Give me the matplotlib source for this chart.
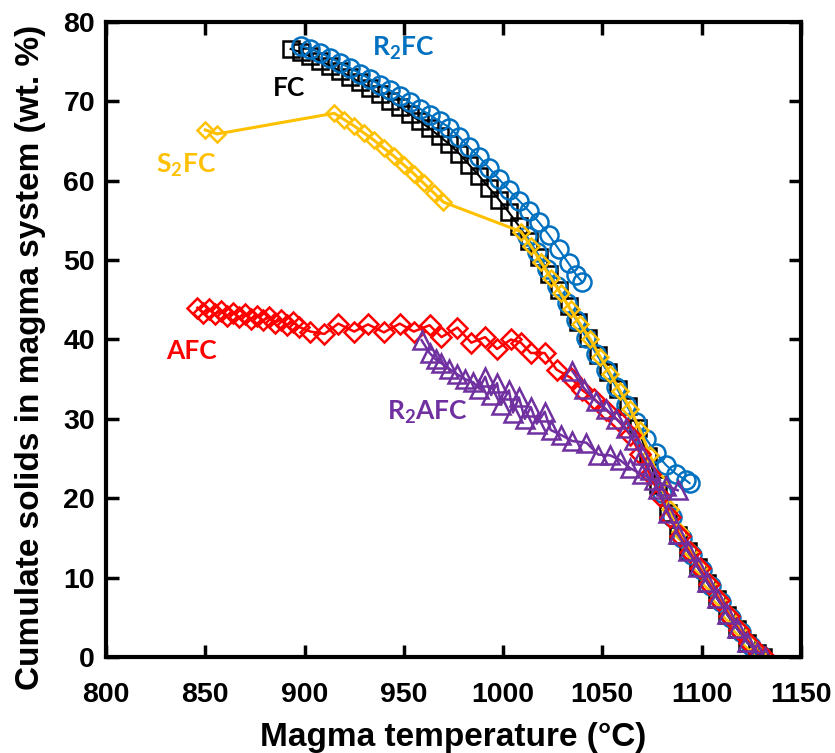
import matplotlib
matplotlib.use("Agg")
import matplotlib.pyplot as plt

# ---- data ----
fc_temp = [893, 898, 903, 908, 913, 918, 923, 928, 933, 938, 943, 948, 953, 958, 963, 968,
           973, 978, 983, 988, 993, 998, 1003, 1008, 1013, 1018, 1023, 1028, 1033, 1038,
           1043, 1048, 1053, 1058, 1063, 1068, 1073, 1078, 1083, 1088, 1093, 1098, 1103,
           1108, 1113, 1118, 1123, 1128, 1131]
fc_solid = [76.6, 76.2, 75.7, 75.1, 74.5, 73.8, 73.1, 72.4, 71.7, 70.9, 70.1, 69.3, 68.4,
            67.5, 66.6, 65.6, 64.6, 63.4, 62.0, 60.6, 59.1, 57.6, 56.0, 54.3, 52.4, 50.4,
            48.3, 46.2, 44.2, 42.2, 40.2, 38.0, 35.9, 33.8, 31.6, 28.8, 25.3, 21.7, 18.2,
            15.4, 13.3, 11.3, 9.3, 7.3, 5.3, 3.5, 1.8, 0.5, 0.0]

r2fc_temp = [898, 903, 908, 913, 918, 923, 928, 933, 938, 943, 948, 953, 958, 963, 968,
             973, 978, 983, 988, 993, 998, 1003, 1008, 1013, 1018, 1023, 1028, 1033, 1037,
             1040]
r2fc_solid = [77.0, 76.6, 76.1, 75.5, 74.8, 74.2, 73.5, 72.8, 72.1, 71.4, 70.7, 69.9, 69.1,
              68.3, 67.5, 66.7, 65.5, 64.2, 63.0, 61.6, 60.2, 58.8, 57.5, 56.2, 54.8, 53.2,
              51.4, 49.6, 48.1, 47.2]
r2fc_temp_b = [1012, 1017, 1022, 1027, 1032, 1037, 1042, 1047, 1052, 1057, 1062, 1067,
               1072, 1077, 1082, 1087, 1092, 1094]
r2fc_solid_b = [53.0, 51.0, 48.9, 46.8, 44.6, 42.4, 40.2, 38.2, 36.2, 34.0, 31.8, 29.6,
                27.5, 25.7, 24.2, 23.1, 22.3, 21.9]
r2fc_temp_c = [1080, 1085, 1090, 1095, 1100, 1105, 1110, 1115, 1120, 1125, 1130]
r2fc_solid_c = [20.6, 17.6, 15.0, 12.9, 10.9, 8.9, 6.9, 4.9, 3.1, 1.4, 0.2]

s2fc_temp = [850, 856, 915, 920, 925, 930, 935, 940, 945, 950, 955, 960, 965, 970, 1009,
             1014, 1019, 1024, 1029, 1034, 1039, 1044, 1049, 1054, 1059, 1064, 1069, 1074,
             1079, 1084, 1089, 1094, 1099, 1104, 1109, 1114, 1119, 1124, 1129, 1132]
s2fc_solid = [66.4, 65.9, 68.5, 67.7, 66.9, 66.0, 65.1, 64.1, 63.1, 62.0, 60.9, 59.7, 58.5,
              57.3, 53.6, 51.8, 49.8, 47.8, 45.8, 43.8, 41.9, 40.0, 37.8, 35.7, 33.5, 31.3,
              28.6, 25.5, 22.0, 18.6, 15.8, 13.5, 11.4, 9.4, 7.4, 5.4, 3.6, 1.9, 0.6, 0.0]

afc_temp = [846, 849, 852, 855, 858, 861, 864, 867, 870, 873, 876, 879, 882, 885, 888, 891,
            894, 897, 903, 910, 917, 925, 932, 940, 948, 955, 963, 969, 977, 984, 991, 997,
            1004, 1009, 1014, 1021, 1027, 1034, 1040, 1046, 1052, 1058, 1064, 1069, 1074,
            1079, 1084, 1089, 1094, 1099, 1104, 1109, 1114, 1119, 1124, 1129, 1132]
afc_solid = [44.0, 43.4, 43.8, 43.2, 43.6, 43.0, 43.4, 42.8, 43.2, 42.6, 43.0, 42.4, 42.8,
             42.1, 42.5, 41.8, 42.2, 41.6, 41.0, 40.7, 42.0, 41.0, 41.9, 40.9, 42.0, 41.0,
             41.8, 40.3, 41.5, 39.6, 40.3, 38.8, 40.0, 39.6, 38.3, 38.3, 36.2, 35.2, 33.6,
             32.5, 31.1, 29.8, 28.0, 25.6, 23.0, 20.3, 17.6, 15.3, 13.2, 11.2, 9.2, 7.2, 5.2,
             3.4, 1.8, 0.5, 0.0]

r2afc_temp = [959, 963, 966, 969, 973, 977, 981, 985, 988, 991, 994, 997, 999, 1003, 1005,
              1008, 1011, 1014, 1017, 1021, 1024, 1029, 1035, 1042, 1048, 1054, 1059, 1064,
              1070, 1076, 1082, 1088]
r2afc_solid = [39.9, 38.3, 37.5, 37.0, 36.3, 35.6, 35.0, 34.6, 33.8, 35.3, 33.0, 34.5, 31.8,
               33.6, 30.8, 32.7, 30.0, 31.5, 29.4, 30.9, 28.6, 28.0, 27.2, 27.0, 25.5, 25.4,
               24.8, 23.8, 23.0, 22.3, 21.6, 21.0]
r2afc_temp_b = [1035, 1041, 1047, 1052, 1057, 1062, 1066, 1070, 1074, 1078, 1083, 1088, 1093,
                1098, 1103, 1108, 1113, 1118, 1123, 1128, 1132]
r2afc_solid_b = [36.0, 33.8, 32.2, 31.2, 30.0, 28.8, 27.3, 25.5, 23.5, 21.2, 18.2, 15.5, 13.4,
                 11.4, 9.4, 7.4, 5.4, 3.6, 1.9, 0.6, 0.0]

x_ticks = [800, 850, 900, 950, 1000, 1050, 1100, 1150]
y_ticks = [0, 10, 20, 30, 40, 50, 60, 70, 80]

plt.rcParams['font.family'] = ['Liberation Sans', 'DejaVu Sans']
plt.rcParams['font.weight'] = 'bold'
label_font = ['Lato', 'DejaVu Sans']

BLACK = '#000000'
BLUE = '#0070C0'
YELLOW = '#FFC000'
RED = '#FF0000'
PURPLE = '#7030A0'

fig = plt.figure(figsize=(8.35, 7.53), dpi=100)
ax = fig.add_axes([0.127, 0.1275, 0.832, 0.8433])

ax.plot(fc_temp, fc_solid, color=BLACK, lw=1.5, marker='s', ms=11.5,
        mfc='none', mec=BLACK, mew=1.8)
for t, s in [(r2fc_temp_c, r2fc_solid_c), (r2fc_temp, r2fc_solid), (r2fc_temp_b, r2fc_solid_b)]:
    ax.plot(t, s, color=BLUE, lw=1.5, marker='o', ms=13, mfc='none', mec=BLUE, mew=1.8)
ax.plot(s2fc_temp, s2fc_solid, color=YELLOW, lw=2.2, marker='D', ms=8,
        mfc='none', mec=YELLOW, mew=1.8)
ax.plot(afc_temp, afc_solid, color=RED, lw=1.8, marker='D', ms=10,
        mfc='none', mec=RED, mew=1.8)
for t, s in [(r2afc_temp, r2afc_solid), (r2afc_temp_b, r2afc_solid_b)]:
    ax.plot(t, s, color=PURPLE, lw=1.8, marker='^', ms=13, mfc='none', mec=PURPLE, mew=1.8)

# series labels
lab = dict(fontsize=19, fontweight='bold', family=label_font, ha='center', va='center')
ax.text(892, 71.7, 'FC', color=BLACK, **lab)
ax.text(950, 76.7, r'R$_\mathregular{2}$FC', color=BLUE, **lab)
ax.text(840.5, 62.0, r'S$_\mathregular{2}$FC', color=YELLOW, **lab)
ax.text(843, 38.5, 'AFC', color=RED, **lab)
ax.text(962, 30.8, r'R$_\mathregular{2}$AFC', color=PURPLE, **lab)

ax.set_xlim(800, 1150)
ax.set_ylim(0, 80)
ax.set_xticks(x_ticks)
ax.set_yticks(y_ticks)
ax.tick_params(direction='in', length=9, width=2.5, top=True, right=True,
               labelsize=20.5)
ax.tick_params(axis='x', pad=18)
ax.tick_params(axis='y', pad=8)
for sp in ax.spines.values():
    sp.set_linewidth(3)

ax.set_xlabel('Magma temperature (°C)', fontsize=24, fontweight='bold', labelpad=10)
ax.set_ylabel('Cumulate solids in magma system (wt. %)', fontsize=24, fontweight='bold')
ax.yaxis.set_label_coords(-0.087, 0.472)

fig.savefig('out.png', dpi=100)
